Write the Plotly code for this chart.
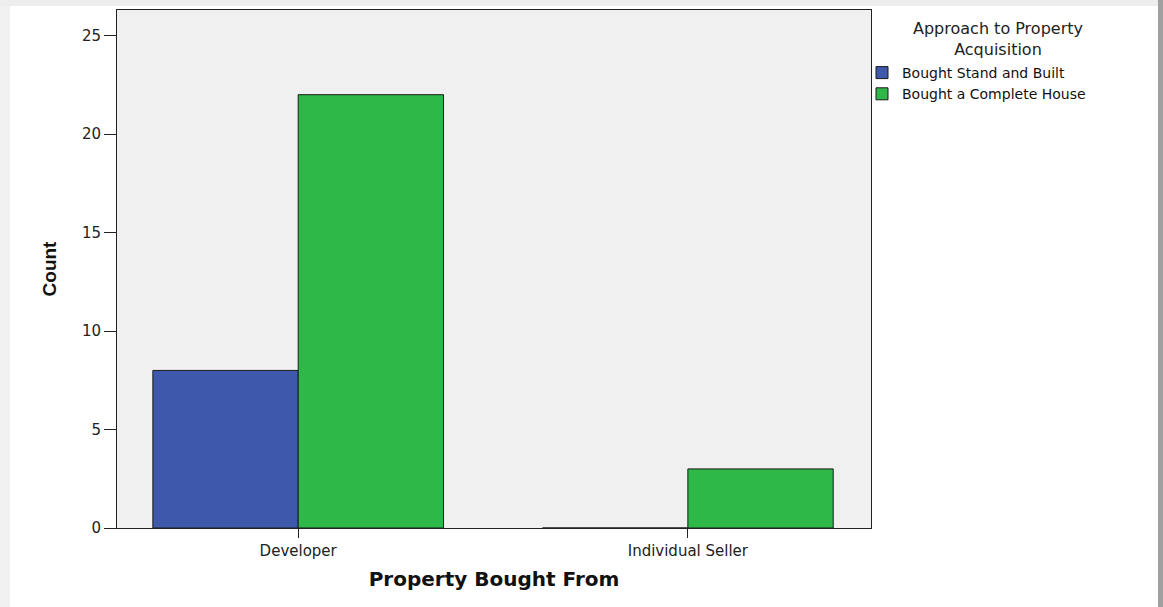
import plotly.graph_objects as go

categories = ["Developer", "Individual Seller"]
series_names = ["Bought Stand and Built", "Bought a Complete House"]
stand_built = [8, 0]
complete_house = [22, 3]
colors = ["#3E58AC", "#2EB848"]
y_ticks = [0, 5, 10, 15, 20, 25]
legend_title = "Approach to Property<br>Acquisition"

W, H = 1163, 607
L, R, T, B = 117, 871, 10, 528
pw, ph = R - L, B - T

def px_x(px):
    return (px - L) / pw

def px_y(py):
    return (B - py) / ph

fig = go.Figure()
for name, vals, col in zip(series_names, [stand_built, complete_house], colors):
    fig.add_trace(go.Bar(
        x=categories, y=vals, name=name,
        marker=dict(color=col, line=dict(color="#1a1a1a", width=1)),
    ))

font = "DejaVu Sans, Liberation Sans, Arial, sans-serif"
fig.update_layout(
    width=W, height=H,
    barmode="group", bargap=0.254, bargroupgap=0,
    paper_bgcolor="white", plot_bgcolor="#F0F0F0",
    margin=dict(l=L, r=W - R, t=T, b=H - B, pad=0),
    font=dict(family=font, size=14, color="#222"),
    xaxis=dict(
        range=[-0.465, 1.47], showgrid=False, showline=True, linecolor="#222", linewidth=1,
        mirror=True, ticks="outside", ticklen=9, tickcolor="#222",
        tickfont=dict(size=15, color="#222"),
        title=dict(text="<b>Property Bought From</b>",
                   font=dict(size=20, color="#111", family="DejaVu Sans, Arial"), standoff=12),
    ),
    yaxis=dict(
        range=[0, 26.3], tickvals=y_ticks, showgrid=False, zeroline=False, showline=True,
        linecolor="#222", linewidth=1, mirror=True, ticks="outside", ticklen=12, tickcolor="#222",
        tickfont=dict(size=15, color="#222"),
        title=dict(text="<b>Count</b>",
                   font=dict(size=19, color="#111", family="Liberation Sans, Arial"), standoff=20),
    ),
    legend=dict(
        x=px_x(862), y=px_y(57), xanchor="left", yanchor="top",
        font=dict(size=14, color="#111"),
        bgcolor="rgba(0,0,0,0)", itemwidth=30, tracegroupgap=0,
    ),
    annotations=[
        dict(text=legend_title, xref="paper", yref="paper", x=px_x(998), y=px_y(17),
             xanchor="center", yanchor="top", showarrow=False, align="center",
             font=dict(size=16, color="#222", family=font)),
    ],
    shapes=[
        dict(type="rect", xref="paper", yref="paper", x0=px_x(0), x1=px_x(10), y0=px_y(607), y1=px_y(0),
             fillcolor="#F0F0F0", line=dict(width=0), layer="below"),
        dict(type="rect", xref="paper", yref="paper", x0=px_x(0), x1=px_x(1158), y0=px_y(6), y1=px_y(0),
             fillcolor="#EDEDED", line=dict(width=0), layer="below"),
        dict(type="rect", xref="paper", yref="paper", x0=px_x(1158), x1=px_x(1163), y0=px_y(607), y1=px_y(0),
             fillcolor="#A0A0A0", line=dict(width=0), layer="below"),
    ],
)

fig.write_html("out.html", config={"displayModeBar": False},
               post_script="document.body.style.margin='0';")
